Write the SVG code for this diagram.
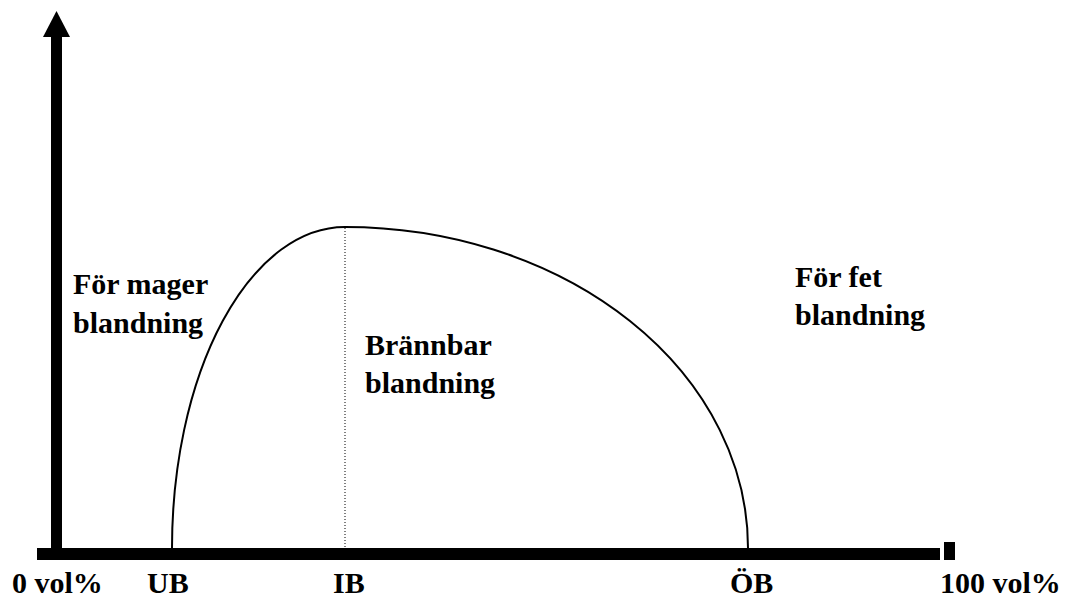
<svg xmlns="http://www.w3.org/2000/svg" width="1066" height="597" viewBox="0 0 1066 597">
<style>
text{font-family:"Liberation Serif","Times New Roman",serif;font-weight:bold;font-size:30px;fill:#000}
.curve{fill:none;stroke:#000;stroke-width:2}
.dot{stroke:#000;stroke-width:1;stroke-dasharray:1 2}
</style>
<rect width="1066" height="597" fill="#fff"/>
<g id="axes">
<rect x="51" y="36" width="11" height="519" fill="#000"/>
<polygon points="56.5,11 43,37 70,37" fill="#000"/>
<rect x="37" y="548" width="903" height="12" fill="#000"/>
<rect x="944" y="542" width="11" height="18" fill="#000"/>
</g>
<g id="connectors">
<path class="curve" d="M172,548 A173,321 0 0 1 345,227 A403,321 0 0 1 748,548"/>
<line class="dot" x1="345" y1="228" x2="345" y2="548"/>
</g>
<g id="labels">
<text x="73" y="294">För mager</text>
<text x="73" y="333">blandning</text>
<text x="365" y="355">Brännbar</text>
<text x="365" y="393">blandning</text>
<text x="795" y="287">För fet</text>
<text x="795" y="325">blandning</text>
<text x="12" y="593">0 vol%</text>
<text x="147" y="593">UB</text>
<text x="333" y="593">IB</text>
<text x="730" y="593">ÖB</text>
<text x="940" y="593">100 vol%</text>
</g>
</svg>
